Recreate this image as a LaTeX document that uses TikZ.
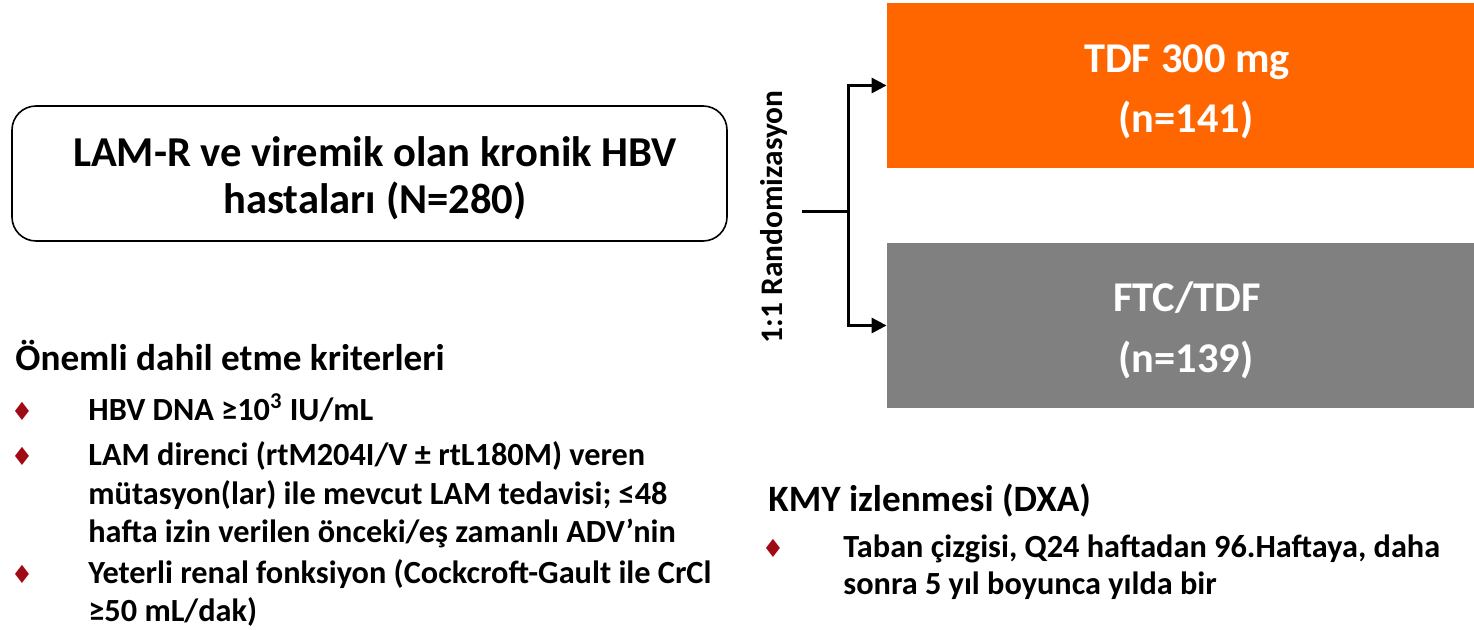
\documentclass[tikz,border=0pt]{standalone}
\usepackage{fontspec}
\setmainfont{Carlito}
\newfontfamily\symfont{DejaVu Sans}
\usetikzlibrary{arrows.meta}
\definecolor{orangebox}{HTML}{FF6600}
\definecolor{graybox}{HTML}{808080}
\definecolor{bulletred}{HTML}{A00A14}
\tikzset{
  boxtext/.style={font=\fontsize{21.3}{23}\selectfont\bfseries, anchor=base, inner sep=0pt},
  armtext/.style={font=\fontsize{21.2}{31}\selectfont\bfseries, anchor=base, inner sep=0pt, text=white},
  head/.style={font=\fontsize{18.6}{20}\selectfont\bfseries, anchor=base west, inner sep=0pt},
  line/.style={font=\fontsize{16.15}{18}\selectfont\bfseries, anchor=base west, inner sep=0pt},
  bul/.style={font=\fontsize{12.5}{13}\selectfont\symfont, text=bulletred, anchor=base, inner sep=0pt},
  conn/.style={line width=1.5pt},
  arr/.style={line width=1.5pt, -{Triangle[length=7.5pt,width=7.5pt]}}
}
\begin{document}
\begin{tikzpicture}[x=0.5pt,y=-0.5pt]
\useasboundingbox (0,0) rectangle (1474,630);
% population box
\node[draw, line width=0.8pt, rounded corners=12pt, minimum width=357.5pt, minimum height=67.5pt] (pop) at (369.5,173.5) {};
\node[boxtext] (popa) at (375,167) {LAM-R ve viremik olan kronik HBV};
\node[boxtext] (popb) at (375,214) {hastaları (N=280)};
% arms
\node[fill=orangebox, minimum width=293.5pt, minimum height=82.5pt] (tdf) at (1180.5,85.5) {};
\node[armtext] (tdfa) at (1187,73) {TDF 300 mg};
\node[armtext] (tdfb) at (1186,133) {(n=141)};
\node[fill=graybox, minimum width=293.5pt, minimum height=82.5pt] (ftc) at (1180.5,325.5) {};
\node[armtext] (ftca) at (1187,312) {FTC/TDF};
\node[armtext] (ftcb) at (1186,373) {(n=139)};
% randomization
\node[rotate=90, font=\fontsize{15.7}{17}\selectfont\bfseries, inner sep=0pt] (rand) at (774,217) {1:1 Randomizasyon};
\coordinate (start) at (802,212);
\coordinate (fork) at (848,212);
\draw[conn] (start) -- (fork);
\draw[arr] (fork) |- (tdf.west);
\draw[arr] (fork) |- (ftc.west);
% inclusion criteria
\node[head] (h1) at (15,371) {Önemli dahil etme kriterleri};
\node[bul] (d1) at (22,421) {♦};
\node[line] (l1) at (88,421) {HBV DNA ≥10\textsuperscript{3} IU/mL};
\node[bul] (d2) at (22,466) {♦};
\node[line] (l2a) at (88,466) {LAM direnci (rtM204I/V ± rtL180M) veren};
\node[line] (l2b) at (88,505) {mütasyon(lar) ile mevcut LAM tedavisi; ≤48};
\node[line] (l2c) at (88,543) {hafta izin verilen önceki/eş zamanlı ADV’nin};
\node[bul] (d3) at (22,584) {♦};
\node[line] (l3a) at (88,584) {Yeterli renal fonksiyon (Cockcroft-Gault ile CrCl};
\node[line] (l3b) at (88,622) {≥50 mL/dak)};
% BMD monitoring
\node[head] (h2) at (768,512) {KMY izlenmesi (DXA)};
\node[bul] (d4) at (773,558) {♦};
\node[line] (l4a) at (843,558) {Taban çizgisi, Q24 haftadan 96.Haftaya, daha};
\node[line] (l4b) at (843,595) {sonra 5 yıl boyunca yılda bir};
\end{tikzpicture}
\end{document}
